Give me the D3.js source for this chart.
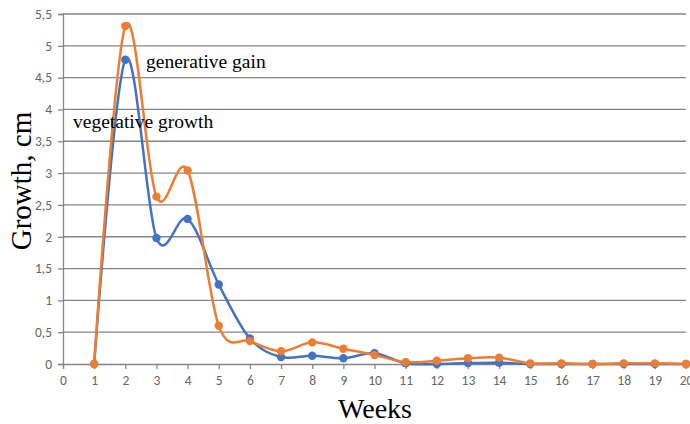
<!DOCTYPE html>
<html><head><meta charset="utf-8">
<script src="https://cdn.jsdelivr.net/npm/d3@7"></script>
<style>body{margin:0;background:#fff;}svg{display:block;}</style>
</head><body>
<svg id="c" width="690" height="424"></svg>
<script>
const weeks = [1,2,3,4,5,6,7,8,9,10,11,12,13,14,15,16,17,18,19,20];
const vegetative = [0,4.78,1.98,2.28,1.25,0.40,0.11,0.13,0.09,0.17,0.01,0.0,0.015,0.02,0,0,0,0,0,0];
const generative = [0,5.31,2.63,3.04,0.60,0.36,0.20,0.34,0.24,0.14,0.03,0.05,0.09,0.10,0.01,0.01,0,0.01,0.01,0];
const xTicks = d3.range(0,21);
const yTicks = [0,0.5,1,1.5,2,2.5,3,3.5,4,4.5,5,5.5];

const svg = d3.select("#c");
const L=63, R=686, T=14, B=364;
const x = d3.scaleLinear().domain([0,20]).range([L,R]);
const y = d3.scaleLinear().domain([0,5.5]).range([B,T]);
const fmt = v => String(v).replace(".", ",");

// gridlines
svg.append("g").selectAll("line").data(yTicks.filter(v=>v>0)).join("line")
  .attr("x1",L).attr("x2",R).attr("y1",d=>y(d)).attr("y2",d=>y(d))
  .attr("stroke","#858585").attr("stroke-width",1.3);

// y axis
const ya = svg.append("g").attr("transform",`translate(${L},0)`)
  .call(d3.axisLeft(y).tickValues(yTicks).tickFormat(fmt).tickSize(5).tickPadding(6));
ya.select(".domain").attr("stroke","#858585").attr("stroke-width",1.3);
ya.selectAll(".tick line").attr("stroke","#858585").attr("stroke-width",1.3);
ya.selectAll("text").attr("fill","#666").style("font-family","Carlito, 'Liberation Sans', sans-serif").style("font-size","13.5px");

// x axis
const xa = svg.append("g").attr("transform",`translate(0,${B})`)
  .call(d3.axisBottom(x).tickValues(xTicks).tickFormat(d=>d).tickSize(5).tickPadding(6));
xa.select(".domain").attr("stroke","#858585").attr("stroke-width",1.3);
xa.selectAll(".tick line").attr("stroke","#858585").attr("stroke-width",1.3);
xa.selectAll("text").attr("fill","#666").style("font-family","Carlito, 'Liberation Sans', sans-serif").style("font-size","13.5px");

const line = d3.line().x((d,i)=>x(weeks[i])).y(d=>y(d)).curve(d3.curveCatmullRom.alpha(0));
const series = [{v:vegetative,c:"#4472C4"},{v:generative,c:"#ED7D31"}];
series.forEach(s=>{
  svg.append("path").attr("d",line(s.v)).attr("fill","none").attr("stroke",s.c).attr("stroke-width",2.5);
  svg.append("g").selectAll("circle").data(s.v).join("circle")
    .attr("cx",(d,i)=>x(weeks[i])).attr("cy",d=>y(d)).attr("r",4.2).attr("fill",s.c);
});

// annotations
svg.append("text").attr("x",146).attr("y",68).text("generative gain")
  .style("font-family","'Liberation Serif', serif").style("font-size","19.5px").attr("fill","#000");
svg.append("text").attr("x",73).attr("y",128).text("vegetative growth")
  .style("font-family","'Liberation Serif', serif").style("font-size","19.5px").attr("fill","#000");

// axis titles
svg.append("text").attr("transform","translate(31,181) rotate(-90)").attr("text-anchor","middle")
  .text("Growth, cm").style("font-family","'Liberation Serif', serif").style("font-size","29px").attr("fill","#000");
svg.append("text").attr("x",375).attr("y",418).attr("text-anchor","middle")
  .text("Weeks").style("font-family","'Liberation Serif', serif").style("font-size","28px").attr("fill","#000");
</script>
</body></html>
